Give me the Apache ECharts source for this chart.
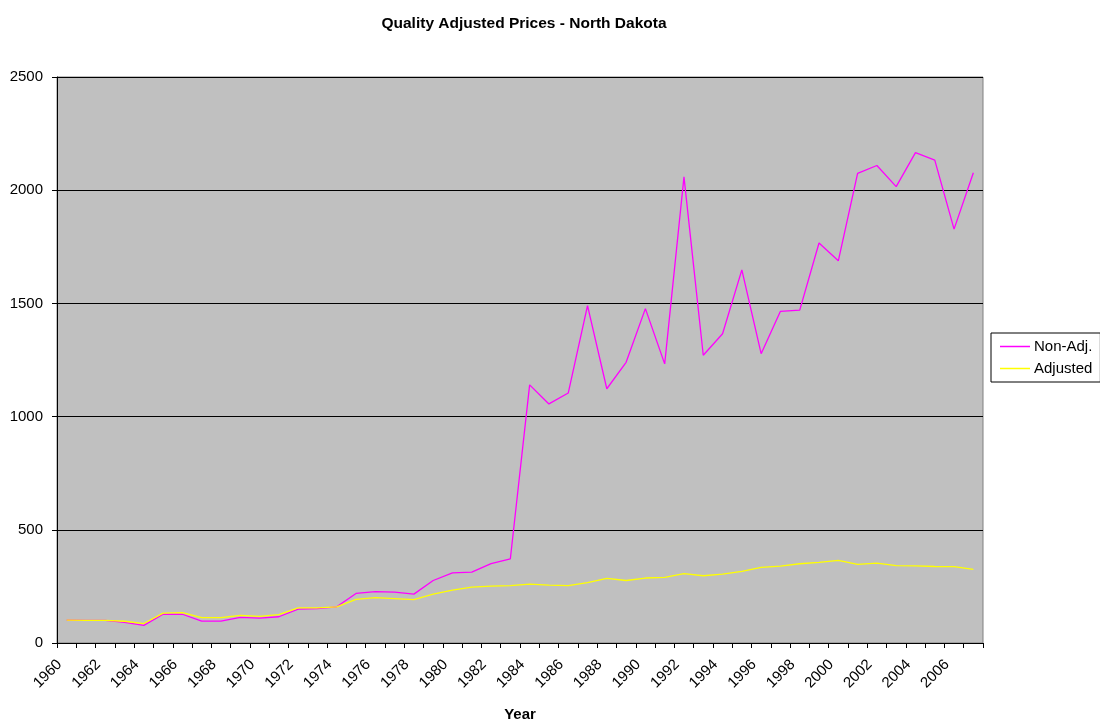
<!DOCTYPE html>
<html>
<head>
<meta charset="utf-8">
<script src="https://cdn.jsdelivr.net/npm/echarts@6/dist/echarts.min.js"></script>
<style>
  html, body { margin: 0; padding: 0; background: #fff; }
  #chart { width: 1100px; height: 723px; }
</style>
</head>
<body>
<div id="chart"></div>
<script>
var years = [];
for (var y = 1960; y <= 2007; y++) years.push(String(y));

var nonAdj = [
  101, 100, 100, 91, 78, 127, 127, 97, 97, 113,
  110, 116, 150, 152, 160, 219, 227, 225, 216, 276,
  310, 313, 351, 372, 1140, 1056, 1104, 1490, 1123, 1240,
  1477, 1233, 2059, 1271, 1366, 1648, 1278, 1465, 1470, 1767,
  1688, 2074, 2109, 2016, 2166, 2133, 1828, 2077
];

var adjusted = [
  101, 100, 100, 96, 86, 132, 134, 112, 112, 122,
  118, 125, 155, 155, 160, 193, 200, 196, 192, 216,
  234, 247, 251, 253, 260, 256, 253, 267, 285, 276,
  287, 290, 306, 297, 304, 316, 334, 340, 350, 356,
  365, 347, 353, 342, 341, 338, 337, 325
];

var yTicks = { min: 0, max: 2500, interval: 500 };

var font = "'Liberation Sans', Arial, sans-serif";
var myChart = echarts.init(document.getElementById("chart"));
myChart.setOption({
  backgroundColor: "#ffffff",
  animation: false,
  title: {
    text: "Quality Adjusted Prices - North Dakota",
    left: 519,
    textAlign: "center",
    top: 11,
    textStyle: { fontFamily: font, fontSize: 15.5, fontWeight: "bold", color: "#000" }
  },
  legend: {
    orient: "vertical",
    left: 991,
    top: 333,
    width: 120,
    padding: [6, 8, 6, 9],
    itemGap: 7,
    itemWidth: 30,
    itemHeight: 1.5,
    icon: "rect",
    borderColor: "#000",
    borderWidth: 1,
    backgroundColor: "#fff",
    textStyle: { fontFamily: font, fontSize: 15, color: "#000", padding: [0, 0, 0, -1] },
    data: ["Non-Adj.", "Adjusted"]
  },
  grid: {
    left: 57,
    right: 117,
    top: 77,
    bottom: 80,
    containLabel: false,
    outerBoundsMode: "none",
    show: true,
    backgroundColor: "#c0c0c0",
    borderColor: "#808080",
    borderWidth: 1
  },
  xAxis: {
    type: "category",
    data: years,
    boundaryGap: true,
    name: "Year",
    nameLocation: "middle",
    nameGap: 64,
    nameTextStyle: { fontFamily: font, fontSize: 15, fontWeight: "bold", color: "#000" },
    axisLine: { lineStyle: { color: "#000", width: 1 } },
    axisTick: { show: true, interval: 0, length: 5, lineStyle: { color: "#000" } },
    axisLabel: {
      interval: 1,
      rotate: 45,
      margin: 12,
      padding: [0, 10, 0, 0],
      fontFamily: font,
      fontSize: 15,
      color: "#000"
    },
    splitLine: { show: false }
  },
  yAxis: {
    type: "value",
    min: yTicks.min,
    max: yTicks.max,
    interval: yTicks.interval,
    axisLine: { show: true, lineStyle: { color: "#000", width: 1 } },
    axisTick: { show: true, length: 5, lineStyle: { color: "#000" } },
    axisLabel: {
      margin: 14,
      fontFamily: font,
      fontSize: 15,
      color: "#000",
      formatter: function (v) { return String(v); }
    },
    splitLine: { show: true, lineStyle: { color: "#000", width: 1 } }
  },
  series: [
    {
      name: "Non-Adj.",
      type: "line",
      data: nonAdj,
      showSymbol: false,
      symbol: "none",
      color: "#ff00ff",
      lineStyle: { color: "#ff00ff", width: 1.3 }
    },
    {
      name: "Adjusted",
      type: "line",
      data: adjusted,
      showSymbol: false,
      symbol: "none",
      color: "#ffff00",
      lineStyle: { color: "#ffff00", width: 1.3 }
    }
  ]
});
</script>
</body>
</html>
